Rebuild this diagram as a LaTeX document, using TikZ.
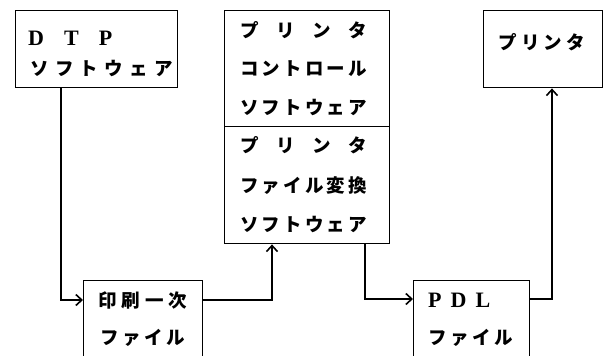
\documentclass[tikz,border=0pt]{standalone}
\usepackage{fontspec}
\newfontfamily\jp{Noto Sans CJK JP}
\newfontfamily\lat{Liberation Serif}
\usetikzlibrary{arrows.meta}
\newcommand\hf{\hfil}
\begin{document}
\begin{tikzpicture}[x=1pt,y=-1pt,
  box/.style={draw, line width=1.4pt, inner sep=0pt, anchor=north west},
  txt/.style={anchor=west, inner sep=0pt, font=\jp\bfseries\fontsize{18.5}{18.5}\selectfont},
  ltxt/.style={anchor=west, inner sep=0pt, font=\lat\bfseries\fontsize{22}{22}\selectfont},
  conn/.style={line width=1.4pt, -{Straight Barb[length=6pt,width=11pt,line width=1.6pt]}}]
\clip (0,0) rectangle (606,356);
\fill[white] (0,0) rectangle (606,356);
% boxes
\node[box, minimum width=162pt, minimum height=77pt] (dtp) at (15,10) {};
\node[box, minimum width=165pt, minimum height=116pt] (up) at (224,10) {};
\node[box, minimum width=165pt, minimum height=117pt] (low) at (224,126) {};
\node[box, minimum width=119pt, minimum height=77pt] (prn) at (483,10) {};
\node[box, minimum width=119pt, minimum height=90pt] (ins) at (83,280) {};
\node[box, minimum width=116pt, minimum height=90pt] (pdl) at (413,280) {};
% texts
\node[ltxt] (t1) at (28,38) {\hbox to 84pt{D\hf T\hf P}};
\node[txt] (t2) at (30,68) {\hbox to 143pt{ソ\hf フ\hf ト\hf ウ\hf ェ\hf ア}};
\node[txt] (t3) at (240,30) {\hbox to 127pt{プ\hf リ\hf ン\hf タ}};
\node[txt] (t4) at (240,69) {\hbox to 127pt{コ\hf ン\hf ト\hf ロ\hf ー\hf ル}};
\node[txt] (t5) at (240,107) {\hbox to 127pt{ソ\hf フ\hf ト\hf ウ\hf ェ\hf ア}};
\node[txt] (t6) at (240,145) {\hbox to 127pt{プ\hf リ\hf ン\hf タ}};
\node[txt] (t7) at (240,186) {\hbox to 127pt{フ\hf ァ\hf イ\hf ル\hf 変\hf 換}};
\node[txt] (t8) at (240,224) {\hbox to 127pt{ソ\hf フ\hf ト\hf ウ\hf ェ\hf ア}};
\node[txt] (t9) at (498,42) {\hbox to 87pt{プ\hf リ\hf ン\hf タ}};
\node[txt] (t10) at (98,300) {\hbox to 89pt{印\hf 刷\hf 一\hf 次}};
\node[txt] (t11) at (100,338) {\hbox to 85pt{フ\hf ァ\hf イ\hf ル}};
\node[ltxt] (t12) at (428,300) {\hbox to 62pt{P\hf D\hf L}};
\node[txt] (t13) at (428,338) {\hbox to 85pt{フ\hf ァ\hf イ\hf ル}};
% connectors
\draw[conn] ([xshift=46pt]dtp.south west) |- ([yshift=-20pt]ins.north west);
\draw[conn] ([yshift=-20pt]ins.north east) -| ([xshift=48pt]low.south west);
\draw[conn] ([xshift=141pt]low.south west) |- ([yshift=-19pt]pdl.north west);
\draw[conn] ([yshift=-19pt]pdl.north east) -| ([xshift=69pt]prn.south west);
\end{tikzpicture}
\end{document}
